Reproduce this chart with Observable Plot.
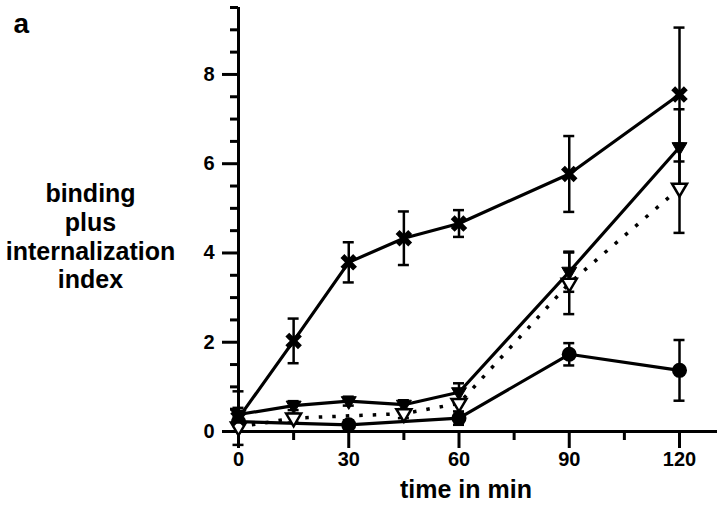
<!DOCTYPE html>
<html><head><meta charset="utf-8">
<script src="https://cdn.jsdelivr.net/npm/d3@7"></script>
<script src="https://cdn.jsdelivr.net/npm/@observablehq/plot@0.6"></script>
<style>body{margin:0;background:#fff}</style>
</head><body><div id="chart"></div>
<script>
// ---- data ----
const crossTime  = [0, 15, 30, 45, 60, 90, 120];
const crossValue = [0.3, 2.03, 3.79, 4.33, 4.66, 5.77, 7.55];
const crossErr   = [0.6, 0.5, 0.45, 0.6, 0.3, 0.85, 1.5];

const filledTime  = [0, 15, 30, 45, 60, 90, 120];
const filledValue = [0.38, 0.58, 0.68, 0.6, 0.88, 3.58, 6.37];
const filledErr   = [0.15, 0.1, 0.1, 0.1, 0.2, 0.45, 0.85];

const openTime  = [0, 15, 45, 60, 90, 120];
const openValue = [0.1, 0.3, 0.4, 0.63, 3.32, 5.45];
const openErr   = [0.1, 0.1, 0.1, 0.3, 0.69, 1.0];

const circleTime  = [0, 30, 60, 90, 120];
const circleValue = [0.22, 0.15, 0.3, 1.73, 1.37];
const circleErr   = [0.1, 0.1, 0.15, 0.25, 0.68];

const xMajorTicks = [0, 30, 60, 90, 120];
const xMinorTicks = [15, 45, 75, 105];
const yMajorTicks = [0, 2, 4, 6, 8];
const yMinorTicks = [0.5, 1, 1.5, 2.5, 3, 3.5, 4.5, 5, 5.5, 6.5, 7, 7.5, 8.5, 9, 9.5];
const yLabel = "binding\nplus\ninternalization\nindex";
const xLabel = "time in min";
const panelLabel = "a";

// ---- helpers ----
const rows = (t, v, e) => t.map((x, i) => ({t: x, v: v[i], lo: v[i] - e[i], hi: v[i] + e[i]}));
const crossRows = rows(crossTime, crossValue, crossErr);
const filledRows = rows(filledTime, filledValue, filledErr);
const openRows = rows(openTime, openValue, openErr);
const circleRows = rows(circleTime, circleValue, circleErr);
const all = [crossRows, filledRows, openRows, circleRows];

const triangleDown = {
  draw(ctx, size) {
    const r = Math.sqrt(size / Math.PI);
    ctx.moveTo(-r, -0.6 * r);
    ctx.lineTo(r, -0.6 * r);
    ctx.lineTo(0, 1.1 * r);
    ctx.closePath();
  }
};

const font = "Liberation Sans, Arial, Helvetica, sans-serif";
const zero = () => 0;

const errMarks = all.flatMap(r => [
  Plot.ruleX(r, {x: "t", y1: "lo", y2: "hi", stroke: "#000", strokeWidth: 2.5}),
  Plot.ruleY(r, {y: "lo", x1: "t", x2: "t", insetLeft: -5.5, insetRight: -5.5, stroke: "#000", strokeWidth: 2.5}),
  Plot.ruleY(r, {y: "hi", x1: "t", x2: "t", insetLeft: -5.5, insetRight: -5.5, stroke: "#000", strokeWidth: 2.5})
]);

const chart = Plot.plot({
  width: 720,
  height: 514,
  marginLeft: 238,
  marginRight: 41,
  marginTop: 7,
  marginBottom: 83,
  x: {domain: [0, 120], axis: null},
  y: {domain: [0, 9.5], axis: null},
  style: {fontFamily: font, background: "#fff", color: "#000"},
  marks: [
    // axes
    Plot.ruleX([0], {stroke: "#000", strokeWidth: 3}),
    Plot.ruleY([0], {stroke: "#000", strokeWidth: 3, insetLeft: -15, insetRight: -38}),
    Plot.ruleY(yMajorTicks, {y: d => d, x1: zero, x2: zero, insetLeft: -16, stroke: "#000", strokeWidth: 3}),
    Plot.ruleY(yMinorTicks, {y: d => d, x1: zero, x2: zero, insetLeft: -8, stroke: "#000", strokeWidth: 3}),
    Plot.ruleX(xMajorTicks, {x: d => d, y1: zero, y2: zero, insetBottom: -17, stroke: "#000", strokeWidth: 3}),
    Plot.ruleX(xMinorTicks, {x: d => d, y1: zero, y2: zero, insetBottom: -9, stroke: "#000", strokeWidth: 3}),
    Plot.text(yMajorTicks, {y: d => d, text: d => String(d), frameAnchor: "left", dx: -24, textAnchor: "end", fontSize: 20, fontWeight: "bold", fill: "#000"}),
    Plot.text(xMajorTicks, {x: d => d, text: d => String(d), frameAnchor: "bottom", dy: 34, fontSize: 20, fontWeight: "bold", fill: "#000"}),
    Plot.text([xLabel], {text: d => d, frameAnchor: "bottom", dx: 7, dy: 66, fontSize: 25, fontWeight: "bold", fill: "#000"}),
    Plot.text([yLabel], {text: d => d, frameAnchor: "left", dx: -148, dy: 16.5, lineHeight: 1.15, fontSize: 25, fontWeight: "bold", textAnchor: "middle", fill: "#000"}),
    Plot.text([panelLabel], {text: d => d, frameAnchor: "top-left", dx: -225, dy: 6, fontSize: 28, fontWeight: "bold", fill: "#000"}),
    // error bars
    ...errMarks,
    // lines
    Plot.line(crossRows, {x: "t", y: "v", stroke: "#000", strokeWidth: 3.2}),
    Plot.line(filledRows, {x: "t", y: "v", stroke: "#000", strokeWidth: 3.2}),
    Plot.line(circleRows, {x: "t", y: "v", stroke: "#000", strokeWidth: 3.2}),
    Plot.line(openRows, {x: "t", y: "v", stroke: "#000", strokeWidth: 3.5, strokeDasharray: "3.5,10", strokeLinecap: "butt"}),
    // markers
    Plot.dot(circleRows, {x: "t", y: "v", r: 7.5, fill: "#000", stroke: "none"}),
    Plot.dot(filledRows, {x: "t", y: "v", r: 7.5, symbol: triangleDown, fill: "#000", stroke: "#000", strokeWidth: 1}),
    Plot.dot(openRows, {x: "t", y: "v", r: 7.5, symbol: triangleDown, fill: "#fff", stroke: "#000", strokeWidth: 2.5}),
    Plot.dot(crossRows, {x: "t", y: "v", r: 5.8, symbol: "times", fill: "none", stroke: "#000", strokeWidth: 5.5})
  ]
});
document.getElementById("chart").appendChild(chart);
</script>
</body></html>
